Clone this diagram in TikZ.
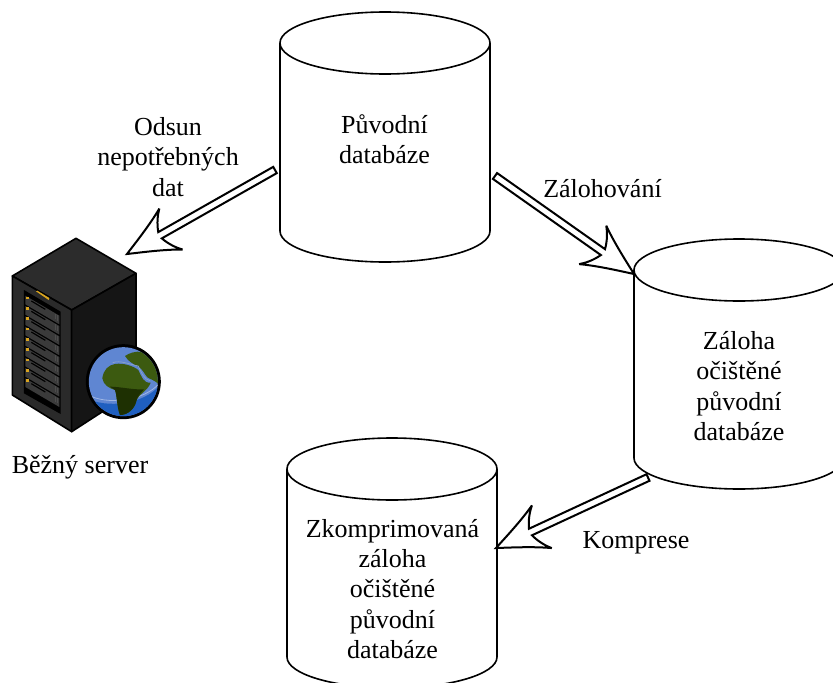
\documentclass[tikz,border=0pt]{standalone}
\usepackage{fontspec}
\setmainfont{Liberation Serif}
\usetikzlibrary{calc}
\definecolor{topface}{HTML}{2C2C2C}
\definecolor{leftface}{HTML}{2A2A2A}
\definecolor{rightface}{HTML}{151515}
\definecolor{rowgray}{HTML}{3A3A3A}
\definecolor{ledyellow}{HTML}{D9A520}
\definecolor{seablue}{HTML}{1F5FC0}
\definecolor{skyblue}{HTML}{5F86D2}
\definecolor{landgreen}{HTML}{3C5A10}
\definecolor{landdark}{HTML}{1E3002}
\definecolor{strait}{HTML}{8FA6C8}
\tikzset{
  dbline/.style={draw=black,line width=1.6pt,fill=white},
  lbl/.style={font=\fontsize{26}{30.2}\selectfont,align=center,inner sep=0pt,text=black},
  blockarrow/.style={draw=black,line width=2pt,fill=white,line join=miter,miter limit=4,
    to path={ let \p1=(\tikztostart), \p2=(\tikztotarget),
      \n1={atan2(\y2-\y1,\x2-\x1)}, \n2={veclen(\x2-\x1,\y2-\y1)} in
      {[shift={(\tikztotarget)},rotate=\n1]
        (-\n2,3.6pt) -- (-38pt,3.6pt)
        .. controls (-41pt,12pt) and (-46pt,19pt) .. (-50.5pt,23.5pt)
        .. controls (-34pt,14pt) and (-14pt,6pt) .. (0pt,0pt)
        .. controls (-14pt,-6pt) and (-34pt,-14pt) .. (-50.5pt,-23.5pt)
        .. controls (-46pt,-19pt) and (-41pt,-12pt) .. (-38pt,-3.6pt)
        -- (-\n2,-3.6pt) -- cycle}
    }}
}
\newcommand{\dbcyl}[3]{%
  \draw[dbline] (#1-105,#2) -- (#1-105,#3) arc[start angle=180,end angle=360,x radius=105pt,y radius=31pt] -- (#1+105,#2);
  \draw[dbline] (#1,#2) ellipse[x radius=105pt,y radius=31pt];
}
\begin{document}
\begin{tikzpicture}[x=1pt,y=-1pt]
\path[use as bounding box,fill=white] (0,0) rectangle (833,683);
\clip (0,0) rectangle (833,683);

\dbcyl{385}{43}{231}
\dbcyl{739}{270}{458}
\dbcyl{392}{469}{657}

\node[lbl] (puvodni) at (384.5,139) {Původní\\databáze};
\node[lbl] (zaloha) at (739,386) {Záloha\\očištěné\\původní\\databáze};
\node[lbl] (zkomp) at (392.5,589) {Zkomprimovaná\\záloha\\očištěné\\původní\\databáze};

\node[lbl] (odsunlbl) at (168,157) {Odsun\\nepotřebných\\dat};
\node[lbl] (zalohlbl) at (602.5,189) {Zálohování};
\node[lbl] (komplbl) at (636,542.5) {Komprese};
\node[lbl] (serverlbl) at (80,467) {Běžný server};

% server icon (coordinates of a 3x scale)
\begin{scope}[shift={(0,230)},x=.33333pt,y=-.33333pt]
  \fill[topface,draw=black,line width=1.6pt,line join=round] (228,25) -- (408,130) -- (215,240) -- (37,138) -- cycle;
  \fill[leftface,draw=black,line width=1.6pt,line join=round] (37,138) -- (215,240) -- (215,605) -- (37,495) -- cycle;
  \fill[rightface,draw=black,line width=1.6pt,line join=round] (215,240) -- (408,130) -- (408,480) -- (215,605) -- cycle;
  \fill[black] (72,180) -- (182,245) -- (182,552) -- (72,490) -- cycle;
  \fill[ledyellow] (108,184) -- (112,182) -- (148,204) -- (146,210) -- cycle;
  \foreach \k in {0,...,8}{
    \fill[rowgray] (76,{197+31*\k}) -- (178,{257+31*\k}) -- (178,{283+31*\k}) -- (76,{223+31*\k}) -- cycle;
    \fill[ledyellow] (78,{200+31*\k}) rectangle (86,{208+31*\k});
    \draw[black,line width=1.2pt] (94,{213+31*\k}) -- (136,{238+31*\k});
    \draw[black!70,line width=.6pt] (165,{252+31*\k}) -- (165,{268+31*\k}) (171,{256+31*\k}) -- (171,{272+31*\k});
  }
\end{scope}

% globe
\begin{scope}[shift={(70,340)},x=.33333pt,y=-.33333pt]
  \fill[black] (160,125) circle[radius=37.5pt];
  \fill[skyblue] (160,125) circle[radius=34.5pt];
  \begin{scope}
    \clip (160,125) circle[radius=34.5pt];
    \fill[seablue] (50,175) .. controls (110,205) and (220,195) .. (270,135) -- (270,240) -- (50,240) -- cycle;
    \draw[skyblue!60!white,line width=.8pt] (55,165) .. controls (110,195) and (220,185) .. (268,130);
    \fill[landgreen] (165,48) .. controls (190,30) and (240,25) .. (262,70)
      .. controls (272,95) and (272,120) .. (268,135)
      .. controls (255,120) and (240,118) .. (232,112)
      .. controls (222,100) and (218,88) .. (205,80)
      .. controls (190,72) and (175,65) .. (165,48) -- cycle;
    \fill[landgreen] (97,115) .. controls (100,90) and (115,75) .. (135,72)
      .. controls (160,68) and (190,78) .. (205,90)
      .. controls (215,110) and (220,130) .. (242,128)
      .. controls (235,150) and (205,165) .. (200,180)
      .. controls (195,205) and (175,225) .. (150,225)
      .. controls (140,200) and (142,170) .. (135,150)
      .. controls (118,145) and (100,135) .. (97,115) -- cycle;
    \fill[landdark] (120,140) .. controls (150,140) and (190,150) .. (222,148)
      .. controls (212,160) and (203,168) .. (200,180)
      .. controls (195,205) and (175,225) .. (150,225)
      .. controls (140,200) and (142,170) .. (135,150) -- cycle;
    \draw[strait,line width=.6pt] (128,68) .. controls (150,60) and (175,72) .. (205,78) (205,78) .. controls (215,100) and (222,118) .. (240,122);
  \end{scope}
\end{scope}

% connectors
\coordinate (t1) at (275,170);
\coordinate (h1) at (127,254);
\coordinate (t2) at (495,176);
\coordinate (h2) at (634,274);
\coordinate (t3) at (648,477.5);
\coordinate (h3) at (496,548);
\draw[blockarrow] (t1) to (h1);
\draw[blockarrow] (t2) to (h2);
\draw[blockarrow] (t3) to (h3);
\end{tikzpicture}
\end{document}
